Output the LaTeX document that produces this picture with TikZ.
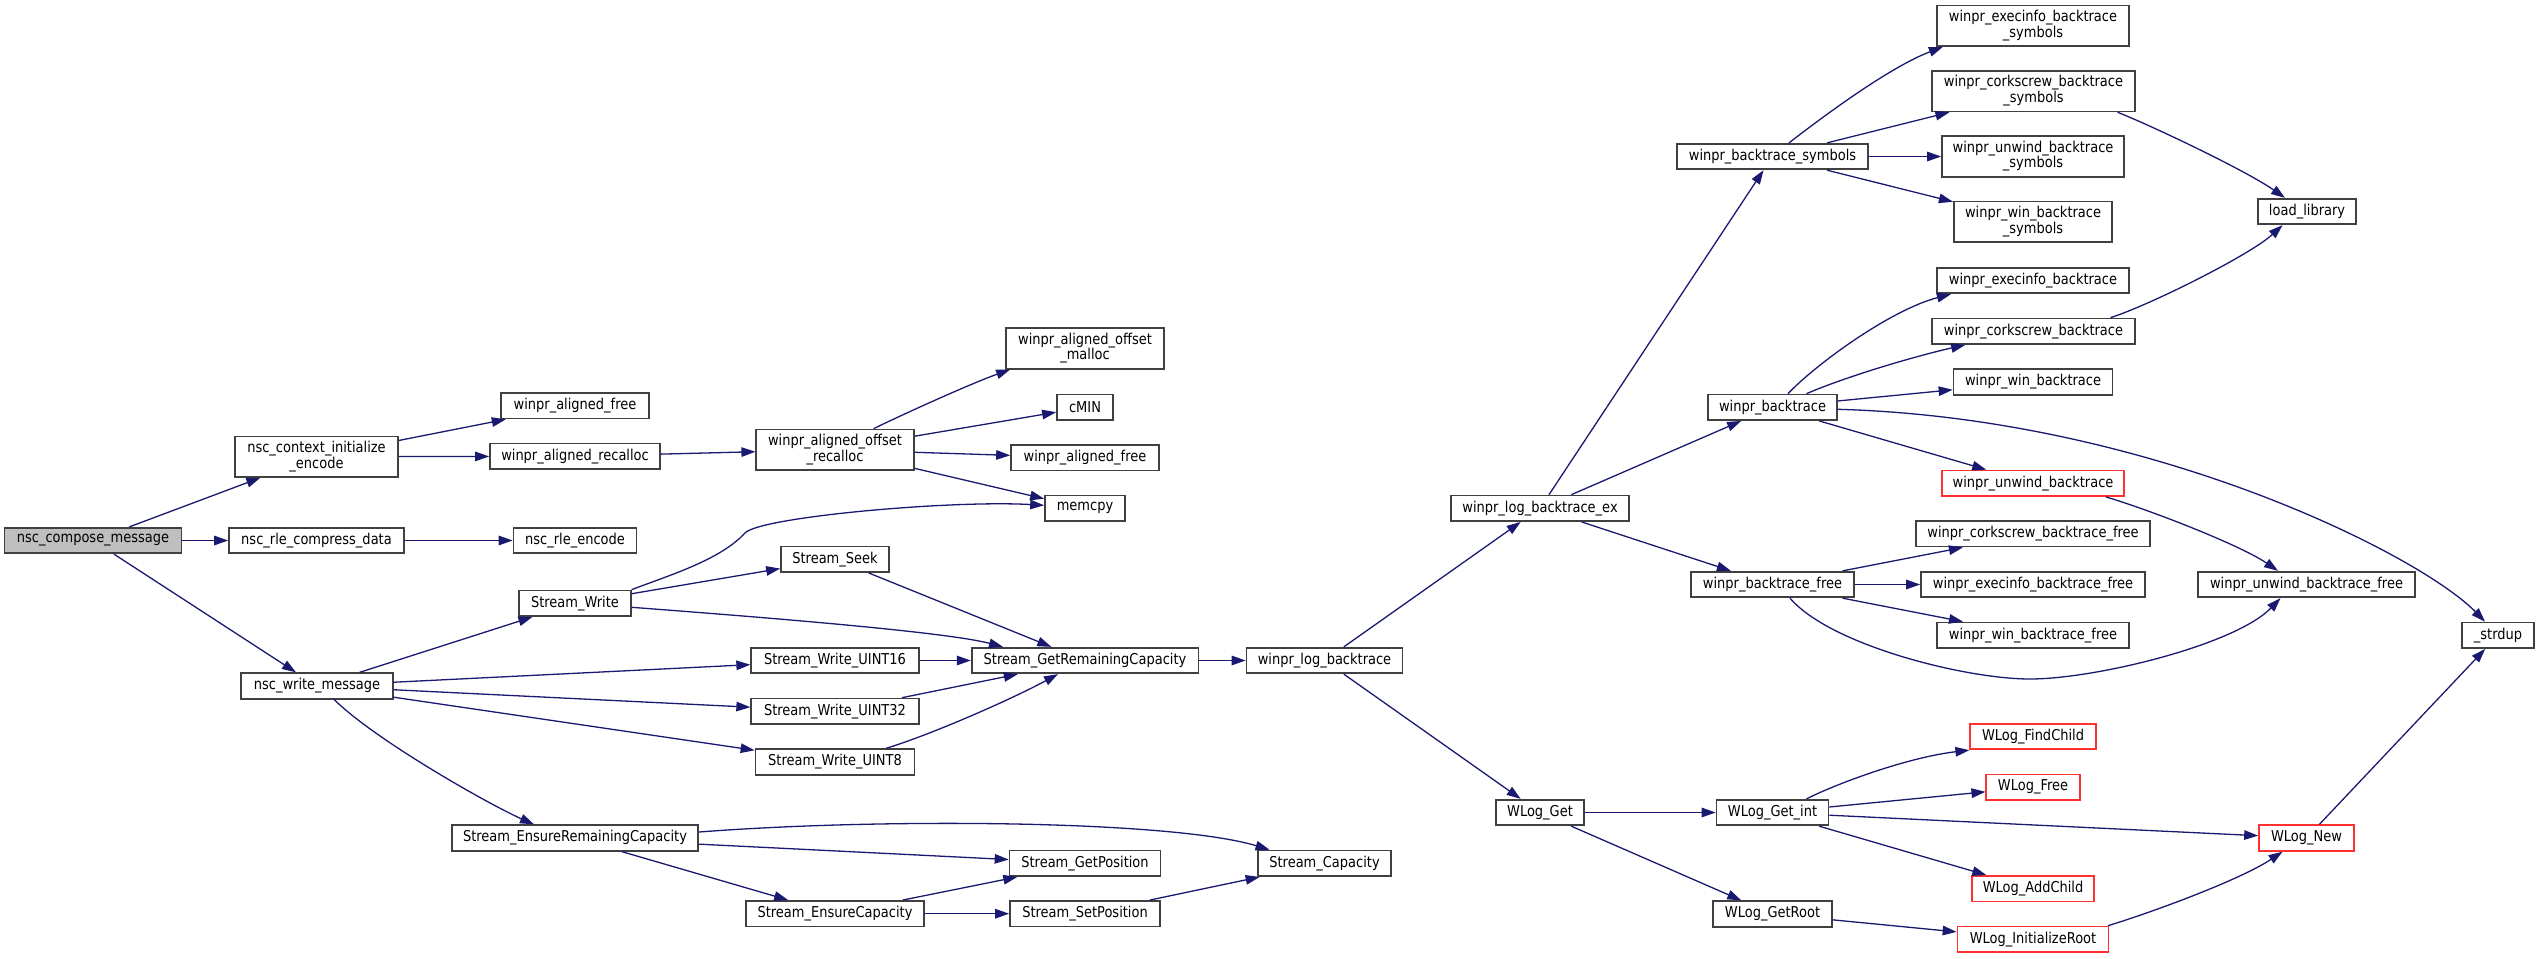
\documentclass[tikz,border=0pt]{standalone}
\usepackage{fontspec}
\usepackage{graphicx}
\setmainfont{DejaVu Sans}
\usetikzlibrary{arrows.meta}
\definecolor{edgec}{HTML}{191970}
\definecolor{nodeb}{HTML}{404040}
\definecolor{rootf}{HTML}{BFBFBF}
\definecolor{truncc}{HTML}{FF3030}
\newcommand\lbl[1]{\scalebox{1}[1.15]{#1}}
\newcommand\lbltwo[2]{\scalebox{1}[1.15]{\begin{tabular}{@{}c@{}}#1\\#2\end{tabular}}}
\tikzset{
 fn/.style={draw=nodeb, line width=1.7pt, fill=white, inner sep=0pt, minimum height=25.6pt, align=center, font=\fontsize{13}{12.6}\selectfont, text=black},
 fn2/.style={fn, minimum height=40.4pt},
 trunc/.style={draw=truncc},
 rootfn/.style={fill=rootf},
 e/.style={draw=edgec, line width=1.3pt, -{Triangle[length=14pt,width=9.5pt]}},
}
\begin{document}
\begin{tikzpicture}[x=1pt,y=-1pt]
\useasboundingbox (0,0) rectangle (2539,958);
% column 1
\node[fn, rootfn, minimum width=177pt] (compose) at (93,540.5) {\lbl{nsc\_compose\_message}};
% column 2
\node[fn2, minimum width=163pt] (ctx) at (316.5,456.7) {\lbltwo{nsc\_context\_initialize}{\_encode}};
\node[fn, minimum width=175pt] (rlecomp) at (316.5,540.5) {\lbl{nsc\_rle\_compress\_data}};
\node[fn, minimum width=151.6pt] (wmsg) at (317,686) {\lbl{nsc\_write\_message}};
% column 3
\node[fn, minimum width=147.4pt] (afree1) at (575,405.7) {\lbl{winpr\_aligned\_free}};
\node[fn, minimum width=170pt] (arecalloc) at (575,456.3) {\lbl{winpr\_aligned\_recalloc}};
\node[fn, minimum width=123pt] (rleenc) at (575,540.5) {\lbl{nsc\_rle\_encode}};
\node[fn, minimum width=111.5pt] (swrite) at (575,603.3) {\lbl{Stream\_Write}};
\node[fn, minimum width=246.5pt] (ensrem) at (575,838) {\lbl{Stream\_EnsureRemainingCapacity}};
% column 4
\node[fn2, minimum width=157.5pt] (aorecalloc) at (835,449.7) {\lbltwo{winpr\_aligned\_offset}{\_recalloc}};
\node[fn, minimum width=108pt] (seek) at (835,559.3) {\lbl{Stream\_Seek}};
\node[fn, minimum width=167.6pt] (u16) at (835,660.5) {\lbl{Stream\_Write\_UINT16}};
\node[fn, minimum width=167.6pt] (u32) at (835,711.3) {\lbl{Stream\_Write\_UINT32}};
\node[fn, minimum width=159pt] (u8) at (835,762) {\lbl{Stream\_Write\_UINT8}};
\node[fn, minimum width=178pt] (enscap) at (835,913.7) {\lbl{Stream\_EnsureCapacity}};
% column 5
\node[fn2, minimum width=158pt] (aomalloc) at (1085,348.5) {\lbltwo{winpr\_aligned\_offset}{\_malloc}};
\node[fn, minimum width=56pt] (cmin) at (1085,407.3) {\lbl{cMIN}};
\node[fn, minimum width=148pt] (afree2) at (1085,457.8) {\lbl{winpr\_aligned\_free}};
\node[fn, minimum width=80pt] (memcpy) at (1085,508.3) {\lbl{memcpy}};
\node[fn, minimum width=226.7pt] (grc) at (1085,660.5) {\lbl{Stream\_GetRemainingCapacity}};
\node[fn, minimum width=151pt] (getpos) at (1085,863.3) {\lbl{Stream\_GetPosition}};
\node[fn, minimum width=150pt] (setpos) at (1085,913.7) {\lbl{Stream\_SetPosition}};
% column 6
\node[fn, minimum width=156pt] (wlb) at (1324.5,660.5) {\lbl{winpr\_log\_backtrace}};
\node[fn, minimum width=133.5pt] (cap) at (1324.5,863.3) {\lbl{Stream\_Capacity}};
% column 7
\node[fn, minimum width=178.5pt] (wlbex) at (1540,508.3) {\lbl{winpr\_log\_backtrace\_ex}};
\node[fn, minimum width=88.5pt] (wlget) at (1540,812.5) {\lbl{WLog\_Get}};
% column 8
\node[fn, minimum width=191pt] (bsym) at (1772.5,156.5) {\lbl{winpr\_backtrace\_symbols}};
\node[fn, minimum width=129pt] (bt) at (1772.5,407.3) {\lbl{winpr\_backtrace}};
\node[fn, minimum width=162.4pt] (btfree) at (1772.5,584.5) {\lbl{winpr\_backtrace\_free}};
\node[fn, minimum width=112pt] (getint) at (1772.5,812.5) {\lbl{WLog\_Get\_int}};
\node[fn, minimum width=119pt] (getroot) at (1772.5,914) {\lbl{WLog\_GetRoot}};
% column 9
\node[fn2, minimum width=191.5pt] (exsym) at (2033,25.8) {\lbltwo{winpr\_execinfo\_backtrace}{\_symbols}};
\node[fn2, minimum width=203pt] (cssym) at (2033.5,91.2) {\lbltwo{winpr\_corkscrew\_backtrace}{\_symbols}};
\node[fn2, minimum width=182pt] (uwsym) at (2033,156.5) {\lbltwo{winpr\_unwind\_backtrace}{\_symbols}};
\node[fn2, minimum width=158.4pt] (winsym) at (2033,221.8) {\lbltwo{winpr\_win\_backtrace}{\_symbols}};
\node[fn, minimum width=191.5pt] (exbt) at (2033,280.5) {\lbl{winpr\_execinfo\_backtrace}};
\node[fn, minimum width=203pt] (csbt) at (2033.5,331.3) {\lbl{winpr\_corkscrew\_backtrace}};
\node[fn, minimum width=159pt] (winbt) at (2033,382) {\lbl{winpr\_win\_backtrace}};
\node[fn, trunc, minimum width=182pt] (uwbt) at (2033,483.3) {\lbl{winpr\_unwind\_backtrace}};
\node[fn, minimum width=234.5pt] (csfree) at (2033,533.8) {\lbl{winpr\_corkscrew\_backtrace\_free}};
\node[fn, minimum width=224pt] (exfree) at (2033,584.5) {\lbl{winpr\_execinfo\_backtrace\_free}};
\node[fn, minimum width=191.5pt] (winfree) at (2033,635.3) {\lbl{winpr\_win\_backtrace\_free}};
\node[fn, trunc, minimum width=125.5pt] (findchild) at (2033,736.5) {\lbl{WLog\_FindChild}};
\node[fn, trunc, minimum width=93.4pt] (wfree) at (2033,787.2) {\lbl{WLog\_Free}};
\node[fn, trunc, minimum width=122.5pt] (addchild) at (2033,888.7) {\lbl{WLog\_AddChild}};
\node[fn, trunc, minimum width=151pt] (initroot) at (2033,939.3) {\lbl{WLog\_InitializeRoot}};
% column 10
\node[fn, minimum width=98.5pt] (loadlib) at (2307,211.5) {\lbl{load\_library}};
\node[fn, minimum width=216.6pt] (uwfree) at (2306.5,584.5) {\lbl{winpr\_unwind\_backtrace\_free}};
\node[fn, trunc, minimum width=95pt] (wnew) at (2306.5,838) {\lbl{WLog\_New}};
% column 11
\node[fn, minimum width=71.5pt] (strdup) at (2498,635.3) {\lbl{\_strdup}};

% edges
\draw[e] (compose) -- (ctx);
\draw[e] (compose) -- (rlecomp);
\draw[e] (compose) -- (wmsg);
\draw[e] (ctx) -- (afree1);
\draw[e] (ctx) -- (arecalloc);
\draw[e] (arecalloc) -- (aorecalloc);
\draw[e] ([xshift=38.6pt]aorecalloc.north) .. controls (903.6,414) and (971,383.5) .. ([xshift=5pt]aomalloc.south west);
\draw[e] (aorecalloc) -- (cmin);
\draw[e] (aorecalloc) -- (afree2);
\draw[e] (aorecalloc) -- (memcpy);
\draw[e] (rlecomp) -- (rleenc);
\draw[e] (wmsg) -- (swrite);
\draw[e] (wmsg) -- (u16);
\draw[e] (wmsg) -- (u32);
\draw[e] (wmsg) -- (u8);
\draw[e] ([xshift=17.3pt]wmsg.south) .. controls (375,740) and (490,805) .. ([xshift=-41pt]ensrem.north);
\draw[e] (swrite.north east) .. controls (670,575) and (720,560) .. (745,533) .. controls (760,517) and (950,500) .. ([yshift=3pt]memcpy.west);
\draw[e] (swrite) -- (seek);
\draw[e] ([yshift=-4pt]swrite.east) .. controls (800,620) and (950,633) .. ([xshift=-82pt]grc.north);
\draw[e] (seek) -- (grc);
\draw[e] (u16) -- (grc);
\draw[e] (u32) -- (grc);
\draw[e] ([xshift=51pt]u8.north) .. controls (930,735) and (1010,700) .. ([xshift=-27pt]grc.south);
\draw[e] (grc) -- (wlb);
\draw[e] (wlb) -- (wlbex);
\draw[e] (wlb) -- (wlget);
\draw[e] (wlbex) -- (bsym);
\draw[e] (wlbex) -- (bt);
\draw[e] (wlbex) -- (btfree);
\draw[e] ([xshift=16.5pt]bsym.north) .. controls (1825,115) and (1890,67) .. ([xshift=6.5pt]exsym.south west);
\draw[e] (bsym) -- (cssym);
\draw[e] (bsym) -- (uwsym);
\draw[e] (bsym) -- (winsym);
\draw[e] ([xshift=84pt]cssym.south) .. controls (2150,125) and (2245,170) .. ([xshift=-22pt]loadlib.north);
\draw[e] ([xshift=15.5pt]bt.north) .. controls (1815,365) and (1890,310) .. ([xshift=14.5pt]exbt.south west);
\draw[e] ([xshift=34pt]bt.north) .. controls (1850,375) and (1920,355) .. ([xshift=34pt]csbt.south west);
\draw[e] (bt) -- (winbt);
\draw[e] ([yshift=-2pt]bt.east) .. controls (2150,418) and (2420,555) .. ([xshift=-13pt]strdup.north);
\draw[e] (bt) -- (uwbt);
\draw[e] ([xshift=77pt]csbt.north) .. controls (2150,305) and (2250,255) .. ([xshift=-24.5pt]loadlib.south);
\draw[e] ([xshift=73pt]uwbt.south) .. controls (2150,510) and (2240,545) .. ([xshift=-28.5pt]uwfree.north);
\draw[e] (btfree) -- (csfree);
\draw[e] (btfree) -- (exfree);
\draw[e] (btfree) -- (winfree);
\draw[e] ([xshift=17.5pt]btfree.south) .. controls (1830,645) and (1965,679) .. (2030,679) .. controls (2095,679) and (2235,645) .. ([xshift=-26pt]uwfree.south);
\draw[e] ([yshift=6pt]ensrem.east) .. controls (880,818) and (1170,820) .. ([xshift=-55pt]cap.north);
\draw[e] (ensrem) -- (getpos);
\draw[e] (ensrem) -- (enscap);
\draw[e] (enscap) -- (getpos);
\draw[e] (enscap) -- (setpos);
\draw[e] (setpos) -- (cap);
\draw[e] (wlget) -- (getint);
\draw[e] (wlget) -- (getroot);
\draw[e] ([xshift=34pt]getint.north) .. controls (1840,782) and (1910,757) .. (findchild.south west);
\draw[e] (getint) -- (wfree);
\draw[e] (getint) -- (wnew);
\draw[e] (getint) -- (addchild);
\draw[e] (getroot) -- (initroot);
\draw[e] ([xshift=75pt]initroot.north) .. controls (2150,913) and (2240,880) .. ([xshift=-24pt]wnew.south);
\draw[e] (wnew) -- (strdup);
\end{tikzpicture}
\end{document}
